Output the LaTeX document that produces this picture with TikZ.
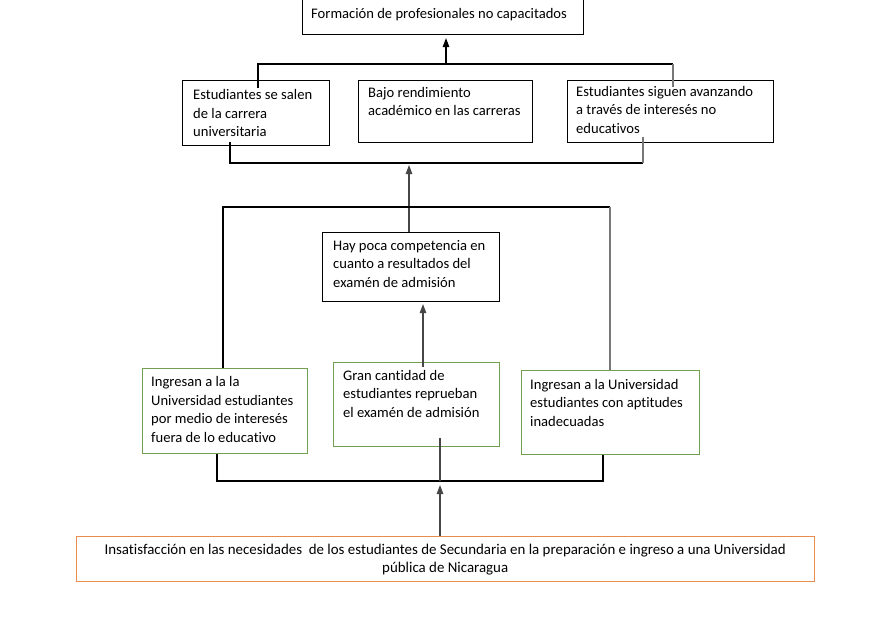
\documentclass[tikz,border=0pt]{standalone}
\usepackage{fontspec}
\setmainfont[Ligatures=NoCommon]{Carlito}
\usetikzlibrary{arrows.meta}
\definecolor{gboxc}{RGB}{112,160,80}
\definecolor{oboxc}{RGB}{232,140,80}
\definecolor{lgray}{RGB}{120,120,120}
\definecolor{dgray}{RGB}{70,70,70}
\newcommand{\tbx}[2]{\parbox[t]{#1}{\raggedright #2}}
\begin{document}
\begin{tikzpicture}[x=1pt,y=-1pt,
  box/.style={draw, line width=1.1pt, anchor=north west, inner sep=0pt},
  gbox/.style={box, draw=gboxc, line width=1pt},
  obox/.style={box, draw=oboxc, line width=1pt},
  txt/.style={anchor=base west, inner sep=0pt, font=\fontsize{14.6}{18.7}\selectfont},
  conn/.style={line width=1.1pt},
  arr/.style={conn, -{Triangle[length=9pt,width=6.5pt]}}]
\useasboundingbox (0,0) rectangle (881,621);
\fill[white] (0,0) rectangle (881,621);
\clip (0,0) rectangle (881,621);

% boxes
\node[box, minimum width=281pt, minimum height=36pt] (top) at (302,-2) {};
\node[box, minimum width=147pt, minimum height=65pt] (b1) at (182,80) {};
\node[box, minimum width=174pt, minimum height=62pt] (b2) at (358,80) {};
\node[box, minimum width=206pt, minimum height=62pt] (b3) at (567,80) {};
\node[box, minimum width=177pt, minimum height=69pt] (hp) at (322,232) {};
\node[gbox, minimum width=165pt, minimum height=85pt] (b4) at (142,368) {};
\node[gbox, minimum width=166pt, minimum height=84pt] (b5) at (333,362) {};
\node[gbox, minimum width=178pt, minimum height=84pt] (b6) at (521,370) {};
\node[obox, minimum width=738pt, minimum height=45pt] (bt) at (76,536) {};

% texts
\node[txt] (top-t) at (311,18.5) {\tbx{270pt}{Formación de profesionales no capacitados}};
\node[txt] (b1-t) at (193,99.5) {\tbx{135pt}{Estudiantes se salen\\de la carrera\\universitaria}};
\node[txt] (b2-t) at (368,97) {\tbx{160pt}{Bajo rendimiento\\académico en las carreras}};
\node[txt] (b3-t) at (576,96) {\tbx{195pt}{Estudiantes siguen avanzando\\a través de interesés no\\educativos}};
\node[txt] (hp-t) at (333,250) {\tbx{165pt}{Hay poca competencia en\\cuanto a resultados del\\examén de admisión}};
\node[txt] (b4-t) at (151,386.5) {\tbx{155pt}{Ingresan a la la\\Universidad estudiantes\\por medio de interesés\\fuera de lo educativo}};
\node[txt] (b5-t) at (343,380) {\tbx{155pt}{Gran cantidad de\\estudiantes reprueban\\el examén de admisión}};
\node[txt] (b6-t) at (530,389) {\tbx{168pt}{Ingresan a la Universidad\\estudiantes con aptitudes\\inadecuadas}};
\node[txt, font=\fontsize{14.9}{18.7}\selectfont] (bt-t) at (76,554) {\parbox[t]{738pt}{\centering Insatisfacción en las necesidades\ \ de los estudiantes de Secundaria en la preparación e ingreso a una Universidad\\pública de Nicaragua}};

% top bracket
\coordinate (t1) at (258,88);
\coordinate (t2) at (673,87);
\coordinate (tl) at (258,64);
\coordinate (tr) at (673,64);
\coordinate (ta) at (446,64);
\draw[conn] (t1) -- (tl) -- (tr);
\draw[conn, lgray] (tr) -- (t2);
\draw[arr, shorten >=3pt] (ta) -- (top.south -| ta);

% lower bracket under row 2
\coordinate (l1) at (230,142);
\coordinate (l2) at (643,137);
\coordinate (ll) at (230,163);
\coordinate (lr) at (643,163);
\coordinate (ma) at (409,163);
\draw[conn] (l1) -- (ll) -- (lr);
\draw[conn, lgray] (l2) -- (lr);
\draw[arr, dgray, shorten >=2pt] (hp.north -| ma) -- (ma);

% big bracket
\coordinate (bl) at (223,207);
\coordinate (br) at (610,207);
\draw[conn] (b4.north -| bl) -- (bl) -- (br);
\draw[conn, lgray] (br) -- (b6.north -| br);

% arrow from b5 to hp
\coordinate (a2) at (423,367);
\draw[arr, dgray, shorten >=2pt] (a2) -- (hp.south -| a2);

% bottom bracket
\coordinate (dl) at (217,481);
\coordinate (dr) at (603,481);
\coordinate (dm) at (440,481);
\coordinate (dm5) at (440,438);
\draw[conn] (b4.south -| dl) -- (dl) -- (dr) -- (b6.south -| dr);
\draw[conn, dgray] (dm5) -- (dm);
\draw[arr, dgray, shorten >=4pt] (bt.north -| dm) -- (dm);
\end{tikzpicture}
\end{document}
